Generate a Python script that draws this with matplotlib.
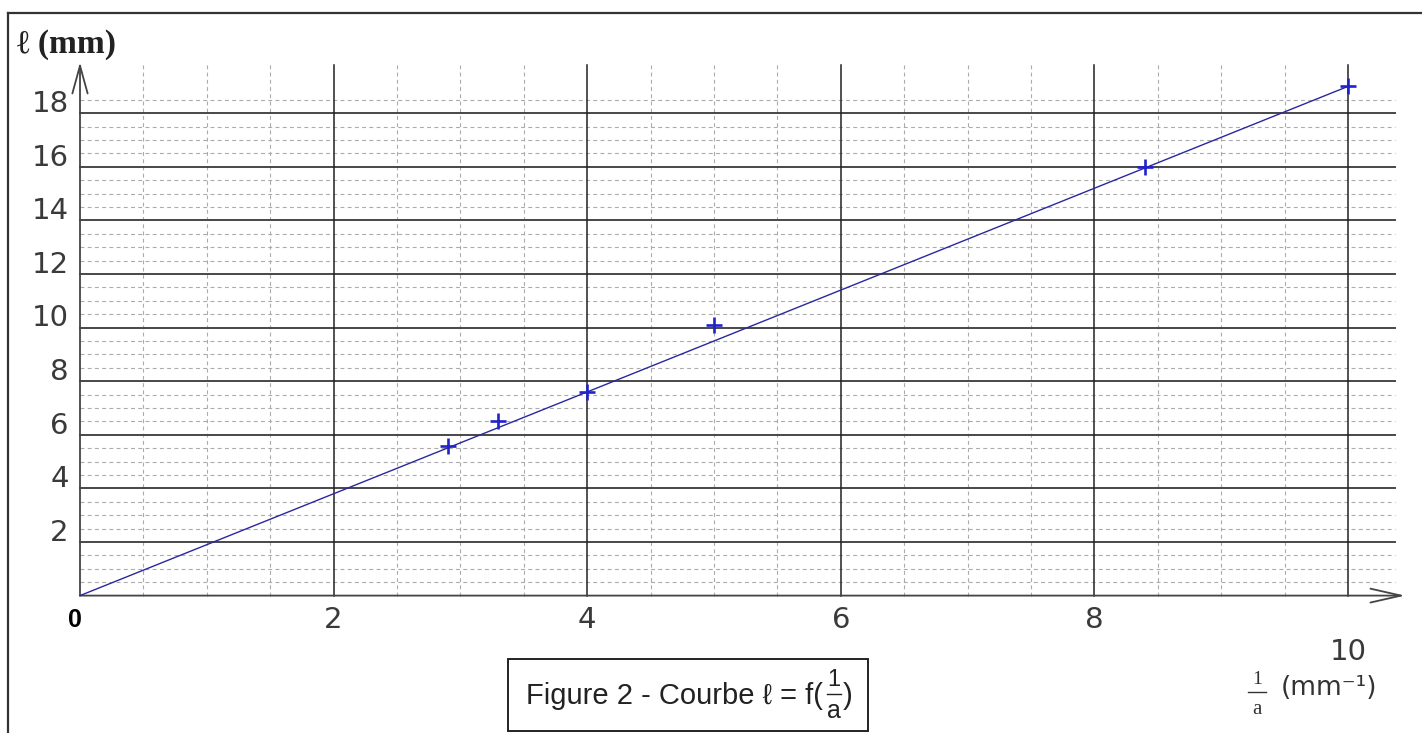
import numpy as np
import matplotlib
matplotlib.use('Agg')
import matplotlib.pyplot as plt
from matplotlib.patches import Rectangle
from matplotlib.lines import Line2D


# mesures : l = f(1/a)
inv_a = [2.9, 3.3, 4.0, 5.0, 8.4, 10.0]
l_mm = [5.6, 6.5, 7.6, 10.1, 16.0, 19.0]
fit_x = [0, 10]
fit_y = [0, 19]
y_ticks = [2, 4, 6, 8, 10, 12, 14, 16, 18]
x_ticks = [2, 4, 6, 8]


def px_to_data(px, py):
    # pixel -> data (axe plein cadre)
    return (px - 80) / 126.8, (595.6 - py) / 26.8


fig = plt.figure(figsize=(14.22, 7.33), dpi=100)
ax = fig.add_axes([0, 0, 1, 1])
ax.set_xlim(px_to_data(0, 0)[0], px_to_data(1422, 0)[0])
ax.set_ylim(px_to_data(0, 733)[1], px_to_data(0, 0)[1])
ax.axis('off')

x_end = 10.37
y_top = 19.8

# quadrillage secondaire
minor_y = [v for v in np.arange(0.5, 19.0, 0.5) if v % 2 != 0]
minor_x = [v for v in np.arange(0.5, 10.0, 0.5) if v % 2 != 0]
for v in minor_y:
    ax.plot([0, x_end], [v, v], color='#ababab', lw=0.8, dashes=(3.5, 3), zorder=1)
for v in minor_x:
    ax.plot([v, v], [0, y_top], color='#ababab', lw=0.8, dashes=(3.5, 3), zorder=1)

# quadrillage principal
for v in y_ticks:
    ax.plot([0, x_end], [v, v], color='#474747', lw=1.4, zorder=2)
for v in x_ticks + [10]:
    ax.plot([v, v], [0, y_top], color='#222222', lw=1.1, zorder=2)

# axes avec fleches
ax.annotate('', xy=(0, 19.9), xytext=(0, 0),
            arrowprops=dict(arrowstyle='->,head_length=2.0,head_width=0.55',
                            color='#444444', lw=1.3, shrinkA=0, shrinkB=0), zorder=3)
ax.annotate('', xy=(10.45, 0), xytext=(0, 0),
            arrowprops=dict(arrowstyle='->,head_length=2.2,head_width=0.5',
                            color='#444444', lw=1.3, shrinkA=0, shrinkB=0), zorder=3)

# droite et points
ax.plot(fit_x, fit_y, color='#28289e', lw=1.0, zorder=4)
ax.plot(inv_a, l_mm, linestyle='none', marker='+', markersize=11, mew=1.9,
        color='#2222cc', zorder=5)

# graduations
for v in y_ticks:
    ax.text(-0.09, v + 0.34, str(v), ha='right', va='center', fontsize=21,
            family='DejaVu Sans', color='#3a3a3a')
for v in x_ticks:
    ax.text(v, -0.91, str(v), ha='center', va='center', fontsize=21,
            family='DejaVu Sans', color='#3a3a3a')
ax.text(-0.04, -0.91, '0', ha='center', va='center', fontsize=18,
        family='Liberation Sans', fontweight='bold', color='black')
ax.text(10, -2.1, '10', ha='center', va='center', fontsize=21,
        family='DejaVu Sans', color='#3a3a3a')

# titres des axes
x0, y0 = px_to_data(17, 45)
ax.text(x0, y0, 'ℓ (mm)', ha='left', va='center', fontsize=24, fontweight='bold',
        family=['Liberation Serif', 'DejaVu Serif'], color='#222222')

fx, fy1 = px_to_data(1257, 679)
_, fyb = px_to_data(1257, 692)
_, fy2 = px_to_data(1257, 710)
ax.text(fx, fy1, '1', ha='center', va='center', fontsize=14,
        family='Liberation Serif', color='#333333')
ax.plot([fx - 0.07, fx + 0.07], [fyb, fyb], color='#333333', lw=1.0)
ax.text(fx, fy2, 'a', ha='center', va='center', fontsize=15,
        family='Liberation Serif', color='#333333')
ux, uy = px_to_data(1281, 688)
ax.text(ux, uy, '(mm⁻¹)', ha='left', va='center', fontsize=19,
        family='DejaVu Sans', color='#333333')

# legende de la figure
bx0, by0 = px_to_data(508, 731)
bx1, by1 = px_to_data(868, 659)
ax.add_patch(Rectangle((bx0, by0), bx1 - bx0, by1 - by0, fill=False,
                       edgecolor='#222222', lw=1.4, zorder=6))
cx, cy = px_to_data(526, 696)
cap = ax.text(cx, cy, 'Figure 2 - Courbe ℓ = f(', ha='left', va='center', fontsize=21,
              family=['Liberation Sans', 'DejaVu Sans'], color='#222222')
fig.canvas.draw()
bb = cap.get_window_extent()
end_px = bb.x1  # position de fin du texte (pixels, origine en bas)
nx = px_to_data(end_px + 11, 0)[0]
_, ny1 = px_to_data(0, 680)
_, nyb = px_to_data(0, 694)
_, ny2 = px_to_data(0, 711)
ax.text(nx, ny1, '1', ha='center', va='center', fontsize=17,
        family='Liberation Sans', color='#222222')
ax.plot([nx - 0.055, nx + 0.055], [nyb, nyb], color='#222222', lw=1.0)
ax.text(nx, ny2, 'a', ha='center', va='center', fontsize=18,
        family='Liberation Sans', color='#222222')
rx = px_to_data(end_px + 25, 0)[0]
ax.text(rx, cy, ')', ha='center', va='center', fontsize=21,
        family='Liberation Sans', color='#222222')

# cadre exterieur (haut et gauche)
fig.add_artist(Line2D([8 / 1422, 1], [1 - 13 / 733, 1 - 13 / 733],
                      color='#333333', lw=1.6))
fig.add_artist(Line2D([8 / 1422, 8 / 1422], [0, 1 - 13 / 733],
                      color='#333333', lw=1.6))

fig.savefig('out.png', dpi=100, facecolor='white')
